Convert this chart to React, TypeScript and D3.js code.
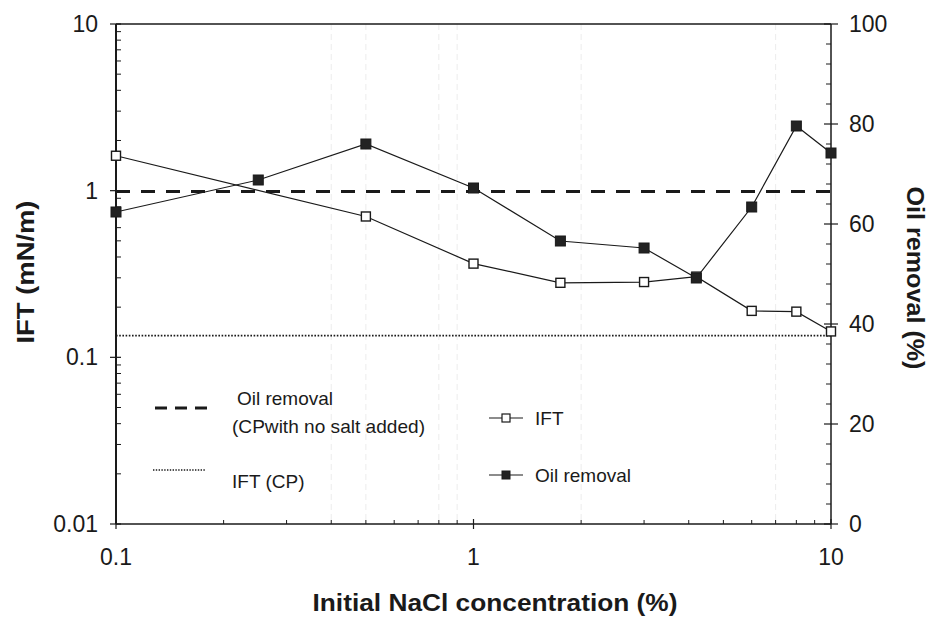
import React from 'react';
import * as d3 from 'd3';

// NaCl concentration (%) for each measurement
const concentrations = [0.1, 0.25, 0.5, 1, 1.75, 3, 4.2, 6, 8, 10];
const iftConcs = [0.1, 0.5, 1, 1.75, 3, 4.2, 6, 8, 10];
// IFT (mN/m), left log axis
const iftValues = [1.62, 0.70, 0.365, 0.28, 0.283, 0.305, 0.19, 0.188, 0.143];
// Oil removal (%), right axis
const oilValues = [62.4, 68.8, 76, 67.2, 56.6, 55.2, 49.2, 63.4, 79.6, 74.2];

// Reference lines for CP without salt
const oilRemovalCP = 66.5;
const iftCP = 0.135;

const xTicks = [0.1, 1, 10];
const leftTicks = [0.01, 0.1, 1, 10];
const rightTicks = [0, 20, 40, 60, 80, 100];
// faint vertical traces visible in the scan
const faintGrid = [0.4, 0.5, 0.8, 0.9, 2, 7];

const W = 932;
const H = 620;
const margin = { top: 24, right: 101, bottom: 96, left: 116 };
const FONT = 'Liberation Sans, Arial, sans-serif';
const INK = '#1a1a1a';

export default function App() {
  const x0 = margin.left;
  const x1 = W - margin.right;
  const y0 = margin.top;
  const y1 = H - margin.bottom;

  const x = d3.scaleLog().domain([0.1, 10]).range([x0, x1]);
  const yL = d3.scaleLog().domain([0.01, 10]).range([y1, y0]);
  const yR = d3.scaleLinear().domain([0, 100]).range([y1, y0]);

  const iftPts = iftConcs.map((c, i) => [x(c), yL(iftValues[i])] as [number, number]);
  const oilPts = concentrations.map((c, i) => [x(c), yR(oilValues[i])] as [number, number]);
  const line = d3.line();

  // minor ticks
  const xMinor: number[] = [];
  [0.1, 1].forEach(d => { for (let k = 2; k <= 9; k++) xMinor.push(d * k); });
  const yMinor: number[] = [];
  [0.01, 0.1, 1].forEach(d => { for (let k = 2; k <= 9; k++) yMinor.push(d * k); });
  const rMinor = d3.range(0, 101, 4).filter(v => v % 20 !== 0);

  const sq = 9;

  return (
    <svg width={W} height={H} style={{ position: 'absolute', left: 0, top: 0, background: '#fff' }}
      fontFamily={FONT}>
      <rect x={0} y={0} width={W} height={H} fill="#fff" />

      {faintGrid.map(v => (
        <line key={'g' + v} x1={x(v)} x2={x(v)} y1={y0} y2={y1}
          stroke="#ececec" strokeWidth={1} strokeDasharray="6 4" />
      ))}

      {/* frame */}
      <line x1={x0} x2={x1} y1={y0} y2={y0} stroke={INK} strokeWidth={1.5} />
      <line x1={x0} x2={x1} y1={y1} y2={y1} stroke={INK} strokeWidth={1.5} />
      <line x1={x0} x2={x0} y1={y0} y2={y1} stroke={INK} strokeWidth={2} />
      <line x1={x1} x2={x1} y1={y0} y2={y1} stroke={INK} strokeWidth={1.5} />

      {/* bottom axis */}
      {xMinor.map(v => (
        <line key={'xm' + v} x1={x(v)} x2={x(v)} y1={y1} y2={y1 - 4} stroke={INK} strokeWidth={1} />
      ))}
      {xTicks.map(v => (
        <g key={'xt' + v}>
          <line x1={x(v)} x2={x(v)} y1={y1 - 5} y2={y1 + 5} stroke={INK} strokeWidth={1.2} />
          <text x={x(v)} y={y1 + 41} textAnchor="middle" fontSize={23} fill={INK}>{v}</text>
        </g>
      ))}

      {/* left axis */}
      {yMinor.map(v => (
        <line key={'ym' + v} x1={x0} x2={x0 + 5} y1={yL(v)} y2={yL(v)} stroke={INK} strokeWidth={1} />
      ))}
      {leftTicks.map(v => (
        <g key={'yt' + v}>
          <line x1={x0 - 6} x2={x0 + 5} y1={yL(v)} y2={yL(v)} stroke={INK} strokeWidth={1.2} />
          <text x={x0 - 18} y={yL(v) + 8} textAnchor="end" fontSize={23} fill={INK}>{v}</text>
        </g>
      ))}

      {/* right axis */}
      {rMinor.map(v => (
        <line key={'rm' + v} x1={x1 - 5} x2={x1} y1={yR(v)} y2={yR(v)} stroke={INK} strokeWidth={1} />
      ))}
      {rightTicks.map(v => (
        <g key={'rt' + v}>
          <line x1={x1 - 7} x2={x1 + 7} y1={yR(v)} y2={yR(v)} stroke={INK} strokeWidth={1.2} />
          <text x={x1 + 18} y={yR(v) + 8} textAnchor="start" fontSize={23} fill={INK}>{v}</text>
        </g>
      ))}

      {/* reference lines */}
      <line x1={x0} x2={x1} y1={yR(oilRemovalCP)} y2={yR(oilRemovalCP)}
        stroke={INK} strokeWidth={3} strokeDasharray="14 11" />
      <line x1={x0} x2={x1} y1={yL(iftCP)} y2={yL(iftCP)}
        stroke={INK} strokeWidth={1.6} strokeDasharray="1.6 1.6" />

      {/* IFT series */}
      <path d={line(iftPts) || ''} fill="none" stroke={INK} strokeWidth={1.2} />
      {iftPts.map((p, i) => (
        <rect key={'i' + i} x={p[0] - sq / 2} y={p[1] - sq / 2} width={sq} height={sq}
          fill="#fff" stroke={INK} strokeWidth={1.4} />
      ))}

      {/* Oil removal series */}
      <path d={line(oilPts) || ''} fill="none" stroke={INK} strokeWidth={1.2} />
      {oilPts.map((p, i) => (
        <rect key={'o' + i} x={p[0] - 5} y={p[1] - 5} width={10} height={10}
          fill="#222" stroke={INK} strokeWidth={1} />
      ))}

      {/* legend */}
      <line x1={155} x2={207} y1={408} y2={408} stroke={INK} strokeWidth={3} strokeDasharray="12 8" />
      <text x={237} y={405} fontSize={19} fill={INK} textLength={96} lengthAdjust="spacingAndGlyphs">Oil removal</text>
      <text x={232} y={433} fontSize={19} fill={INK} textLength={193} lengthAdjust="spacingAndGlyphs">(CPwith no salt added)</text>
      <line x1={153} x2={205} y1={470} y2={470} stroke={INK} strokeWidth={1.4} strokeDasharray="1.4 1.4" />
      <text x={232} y={488} fontSize={19} fill={INK}>IFT (CP)</text>

      <line x1={489} x2={523} y1={418} y2={418} stroke={INK} strokeWidth={1.2} />
      <rect x={502} y={414} width={8} height={8} fill="#fff" stroke={INK} strokeWidth={1.2} />
      <text x={535} y={425} fontSize={19} fill={INK}>IFT</text>
      <line x1={489} x2={523} y1={475} y2={475} stroke={INK} strokeWidth={1.2} />
      <rect x={502} y={471} width={8} height={8} fill="#222" stroke={INK} strokeWidth={1} />
      <text x={535} y={482} fontSize={19} fill={INK} textLength={96} lengthAdjust="spacingAndGlyphs">Oil removal</text>

      {/* axis titles */}
      <text transform={`translate(34,272) rotate(-90)`} textAnchor="middle"
        fontSize={24} fontWeight="bold" fill={INK} textLength={143} lengthAdjust="spacingAndGlyphs">IFT (mN/m)</text>
      <text transform={`translate(907,278) rotate(90)`} textAnchor="middle"
        fontSize={24} fontWeight="bold" fill={INK} textLength={183} lengthAdjust="spacingAndGlyphs">Oil removal (%)</text>
      <text x={495} y={611} textAnchor="middle" fontSize={24} fontWeight="bold"
        fill={INK} textLength={365} lengthAdjust="spacingAndGlyphs">Initial NaCl concentration (%)</text>
    </svg>
  );
}
